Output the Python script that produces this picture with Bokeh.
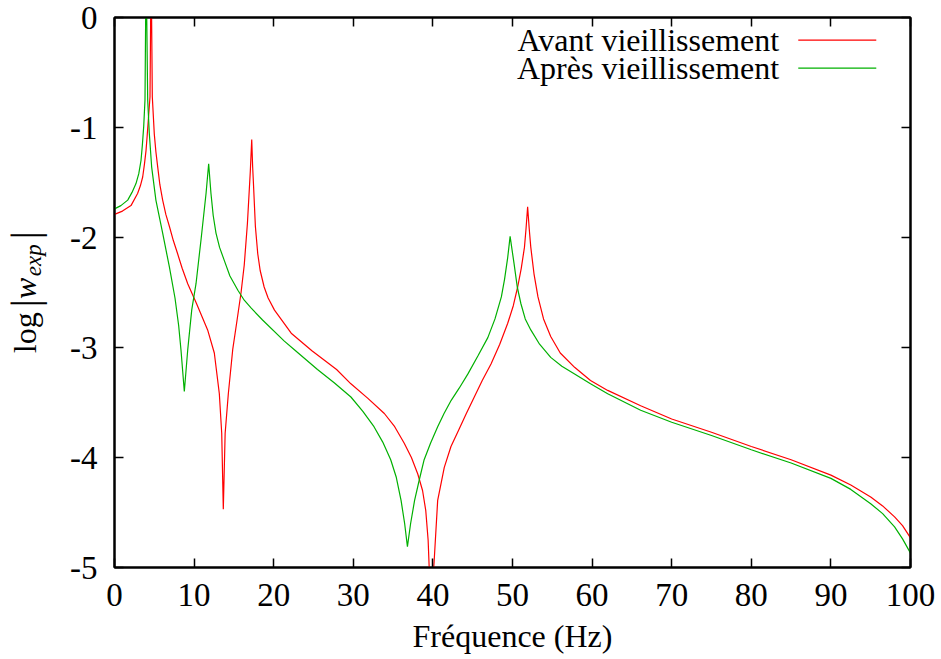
import math
from bokeh.plotting import figure
from bokeh.layouts import row
from bokeh.models import Range1d, LinearAxis, Label, Arrow, FixedTicker
from bokeh.embed import file_html
from bokeh.resources import INLINE

# ---- data ----
avant_x = [0, 1.0, 2.07, 2.9, 3.25, 3.54, 3.75, 3.96, 4.1, 4.25, 4.46, 4.6, 4.75, 5.0, 5.2, 5.43,
           5.7, 6.05, 6.45, 6.9, 7.4, 7.94, 8.5, 9.2, 10.3, 11.7, 12.54, 13.17, 13.47, 13.67,
           13.9, 14.3, 14.85, 15.4, 15.9, 16.3, 16.7, 17.06, 17.24, 17.35, 17.45, 17.7, 18.0,
           18.3, 18.8, 19.3, 20.1, 22.2, 24.8, 27.9, 29.7, 31.8, 33.9, 35.2, 36.4, 37.3, 38.1,
           38.7, 39.1, 39.4, 39.75, 40.15, 40.6, 41.43, 42.27, 43.3, 44.2, 45.2, 46.2, 47.3,
           48.4, 49.4, 50.1, 50.65, 51.1, 51.5, 51.7, 51.9, 52.1, 52.3, 52.7, 53.2, 53.9, 54.8,
           56.0, 57.8, 59.8, 61.96, 66.1, 70, 75, 80, 85, 90, 92.5, 95, 96.5, 98, 99, 100]
avant_y = [-1.79, -1.76, -1.71, -1.60, -1.53, -1.45, -1.34, -1.21, -1.08, -0.93, -0.72, 0.5,
           -0.72, -1.06, -1.22, -1.36, -1.52, -1.66, -1.79, -1.90, -2.03, -2.15, -2.28, -2.42,
           -2.60, -2.84, -3.05, -3.42, -3.78, -4.47, -3.78, -3.42, -3.02, -2.75, -2.50, -2.25,
           -1.87, -1.40, -1.11, -1.35, -1.50, -1.90, -2.15, -2.30, -2.45, -2.55, -2.66, -2.87,
           -3.03, -3.20, -3.33, -3.46, -3.60, -3.72, -3.87, -4.00, -4.15, -4.30, -4.48, -4.75,
           -5.4, -4.95, -4.39, -4.09, -3.90, -3.74, -3.60, -3.45, -3.30, -3.15, -2.97, -2.78,
           -2.62, -2.45, -2.28, -2.09, -1.92, -1.72, -1.92, -2.09, -2.33, -2.54, -2.74, -2.90,
           -3.05, -3.18, -3.30, -3.39, -3.53, -3.65, -3.77, -3.90, -4.02, -4.16, -4.25, -4.36,
           -4.44, -4.54, -4.62, -4.73]

apres_x = [0, 0.8, 1.66, 2.2, 2.7, 3.05, 3.33, 3.5, 3.67, 3.83, 3.97, 4.17, 4.37, 4.67, 5.2,
           6.05, 6.9, 7.6, 8.06, 8.35, 8.77, 9.2, 9.7, 10.24, 10.87, 11.5, 11.83, 12.12, 12.4,
           12.75, 13.2, 13.8, 14.5, 15.5, 16.3, 17.15, 18.6, 21.3, 22.6, 25.5, 27.6, 29.7,
           31.2, 32.6, 33.7, 34.7, 35.4, 36.0, 36.45, 36.8, 37.2, 37.7, 38.3, 38.9, 39.7, 40.6,
           41.4, 42.3, 43.3, 44.4, 45.7, 46.9, 47.8, 48.6, 49.0, 49.4, 49.7, 50.2, 50.6, 51.05,
           51.6, 52.3, 53.4, 54.8, 56.2, 57.8, 59.8, 61.96, 66.1, 70, 75, 80, 85, 90, 92.5,
           95, 96.5, 98, 99, 100]
apres_y = [-1.74, -1.71, -1.66, -1.59, -1.51, -1.42, -1.30, -1.16, -0.99, -0.75, 0.5, -0.75,
           -1.05, -1.36, -1.66, -1.96, -2.27, -2.55, -2.80, -3.02, -3.40, -3.02, -2.66, -2.42,
           -2.02, -1.60, -1.33, -1.60, -1.80, -1.96, -2.09, -2.21, -2.35, -2.48, -2.57, -2.64,
           -2.75, -2.94, -3.02, -3.20, -3.32, -3.45, -3.58, -3.72, -3.86, -4.02, -4.18, -4.39,
           -4.60, -4.81, -4.60, -4.39, -4.20, -4.02, -3.87, -3.72, -3.60, -3.48, -3.37, -3.24,
           -3.07, -2.91, -2.74, -2.54, -2.38, -2.18, -1.99, -2.24, -2.45, -2.60, -2.74, -2.84,
           -2.97, -3.09, -3.17, -3.24, -3.33, -3.42, -3.57, -3.68, -3.80, -3.93, -4.05, -4.19,
           -4.29, -4.42, -4.51, -4.63, -4.74, -4.87]

x_ticks = [0, 10, 20, 30, 40, 50, 60, 70, 80, 90, 100]
y_ticks = [0, -1, -2, -3, -4, -5]
y_tick_labels = ["0", "-1", "-2", "-3", "-4", "-5"]
series_names = ["Avant vieillissement", "Après vieillissement"]
series_colors = ["#ff0000", "#00b000"]

FONT = "Liberation Serif"
FS = "32px"
TICK_FS = "33px"
H = 656
LW = 60  # width of the strip that carries the y-axis title
TOP, BOTTOM = 17, H - 17 - 550

yr = Range1d(-5, 0)
p = figure(width=938 - LW, height=H, output_backend="svg", toolbar_location=None,
           x_range=Range1d(0, 100), y_range=yr,
           min_border_left=114 - LW, min_border_right=28, min_border_top=TOP,
           min_border_bottom=BOTTOM)
p.xgrid.visible = False
p.ygrid.visible = False
p.background_fill_color = "white"
p.border_fill_color = "white"
p.outline_line_color = "black"
p.outline_line_width = 2

p.line(avant_x, avant_y, line_color=series_colors[0], line_width=1.2)
p.line(apres_x, apres_y, line_color=series_colors[1], line_width=1.2)

def style_axis(ax):
    ax.axis_line_color = "black"
    ax.axis_line_width = 2
    ax.major_tick_in = 9
    ax.major_tick_out = 0
    ax.major_tick_line_width = 1.5
    ax.minor_tick_line_color = None
    ax.major_label_text_font = FONT
    ax.major_label_text_color = "black"
    ax.major_label_text_font_size = TICK_FS

p.xaxis.ticker = FixedTicker(ticks=x_ticks)
p.yaxis.ticker = FixedTicker(ticks=y_ticks)
style_axis(p.xaxis[0])
style_axis(p.yaxis[0])
p.yaxis.major_label_overrides = {t: l for t, l in zip(y_ticks, y_tick_labels)}
p.xaxis.major_label_standoff = 16
p.yaxis.major_label_standoff = 17
p.xaxis.axis_label = "Fréquence (Hz)"
p.xaxis.axis_label_text_font = FONT
p.xaxis.axis_label_text_font_size = FS
p.xaxis.axis_label_text_font_style = "normal"
p.xaxis.axis_label_text_color = "black"
p.xaxis.axis_label_standoff = 9

top_ax = LinearAxis(ticker=FixedTicker(ticks=x_ticks))
right_ax = LinearAxis(ticker=FixedTicker(ticks=y_ticks))
style_axis(top_ax)
style_axis(right_ax)
top_ax.major_label_overrides = {t: "" for t in x_ticks}
right_ax.major_label_overrides = {t: "" for t in y_ticks}
top_ax.major_label_standoff = 0
right_ax.major_label_standoff = 0
p.add_layout(top_ax, "above")
p.add_layout(right_ax, "right")

# legend (gnuplot style: text then line sample)
leg_y = [-0.206, -0.461]
for name, col, yy in zip(series_names, series_colors, leg_y):
    p.add_layout(Label(x=83.5, y=yy, text=name, text_font=FONT, text_font_size=FS,
                       text_align="right", text_baseline="middle", text_color="black"))
    p.add_layout(Arrow(end=None, x_start=85.9, y_start=yy, x_end=95.7, y_end=yy,
                       line_color=col, line_width=1.2))

# strip on the left carrying the rotated y-axis title  log |w_exp|
t = figure(width=LW, height=H, output_backend="svg", toolbar_location=None,
           x_range=Range1d(0, LW), y_range=yr,
           x_axis_type=None, y_axis_type=None,
           min_border_left=0, min_border_right=0, min_border_top=TOP,
           min_border_bottom=BOTTOM)
t.xgrid.visible = False
t.ygrid.visible = False
t.outline_line_color = None
t.background_fill_color = "white"
t.border_fill_color = "white"

rot = math.pi / 2
ylab = [
    ("log", 24, -3.052, FS, "normal"),
    ("|", 24, -2.634, "40px", "normal"),
    ("w", 24, -2.56, FS, "italic"),
    ("exp", 33, -2.352, "23px", "italic"),
    ("|", 24, -2.015, "40px", "normal"),
]
for txt, xx, yy, fs, st in ylab:
    t.add_layout(Label(x=xx, y=yy, text=txt, angle=rot,
                       text_font=FONT, text_font_size=fs, text_font_style=st,
                       text_align="left", text_baseline="alphabetic", text_color="black"))

layout = row(t, p, spacing=0)
open("out.html", "w").write(file_html(layout, INLINE))
